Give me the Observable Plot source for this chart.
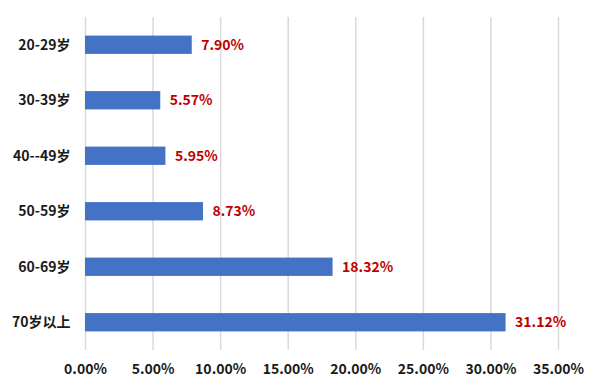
<!DOCTYPE html>
<html>
<head>
<meta charset="utf-8">
<script src="https://cdn.jsdelivr.net/npm/d3@7"></script>
<script src="https://cdn.jsdelivr.net/npm/@observablehq/plot@0.6"></script>
<style>
  html, body { margin: 0; padding: 0; background: #fff; }
  svg { font-family: "Noto Sans CJK SC", "Noto Sans", sans-serif; }
</style>
</head>
<body>
<div id="chart"></div>
<script>
const categories = ["20-29岁", "30-39岁", "40--49岁", "50-59岁", "60-69岁", "70岁以上"];
const values = [7.90, 5.57, 5.95, 8.73, 18.32, 31.12];
const xTicks = [0, 5, 10, 15, 20, 25, 30, 35];

const data = categories.map((c, i) => ({category: c, value: values[i]}));
const fmt = d => d.toFixed(2) + "%";

const chart = Plot.plot({
  width: 600,
  height: 389,
  marginLeft: 85,
  marginRight: 42,
  marginTop: 17,
  marginBottom: 39,
  style: {fontFamily: '"Noto Sans CJK SC", "Noto Sans", sans-serif', fontSize: "14px", fontWeight: "bold", color: "#1a1a1a", background: "#fff"},
  x: {domain: [0, 35], ticks: xTicks, tickFormat: fmt, label: null},
  y: {domain: categories, label: null, paddingInner: 0.67, paddingOuter: 0.335, round: false},
  marks: [
    Plot.ruleX(xTicks, {stroke: "#d9d9d9", strokeWidth: 1.5}),
    Plot.barX(data, {x: "value", y: "category", fill: "#4472C4"}),
    Plot.text(data, {x: "value", y: "category", text: d => fmt(d.value), textAnchor: "start", dx: 9, fill: "#C00000", fontSize: 14, fontWeight: "bold"}),
    Plot.axisX({ticks: xTicks, tickFormat: fmt, tickSize: 0, tickPadding: 14, label: null, fontSize: 14, fontWeight: "bold"}),
    Plot.axisY({tickSize: 0, tickPadding: 15, label: null, fontSize: 14, fontWeight: "bold"})
  ]
});
document.getElementById("chart").appendChild(chart);
</script>
</body>
</html>
